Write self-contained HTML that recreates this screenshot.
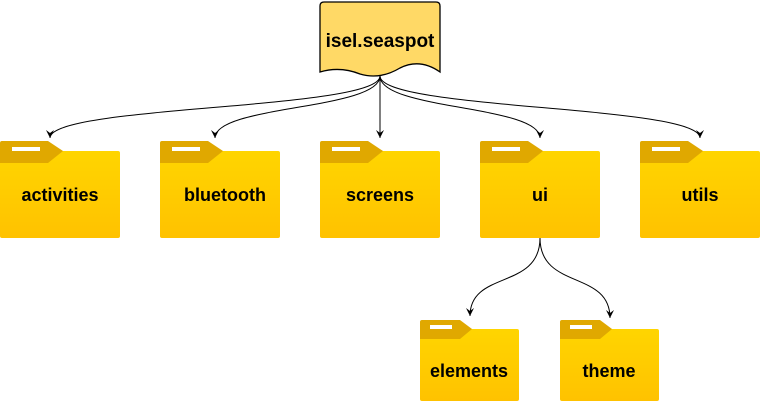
<!DOCTYPE html>
<html><head><style>body{margin:0;background:#fff}svg{display:block}text{font-family:"Liberation Sans",sans-serif;font-weight:bold;font-size:18px;fill:#000;text-anchor:middle}</style></head>
<body>
<svg width="761" height="407" viewBox="0 0 761 407">
<defs>
<linearGradient id="g" x1="0" y1="0" x2="0" y2="1"><stop offset="0" stop-color="#FFD500"/><stop offset="1" stop-color="#FFC200"/></linearGradient>
<marker id="a" markerWidth="10" markerHeight="10" refX="8" refY="5" orient="auto" markerUnits="userSpaceOnUse"><path d="M0,1 L8,5 L0,9 L3,5 Z" fill="#000"/></marker>
<g id="f">
<rect x="0" y="10" width="120" height="87" rx="2" fill="url(#g)"/>
<path d="M2,0 H48 L63,10 L48,22 H0 V2 Q0,0 2,0 Z" fill="#E0A800"/>
<rect x="12" y="6" width="28" height="4" fill="#fff"/>
</g>
<g id="fs">
<rect x="0" y="9" width="99" height="72" rx="2" fill="url(#g)"/>
<path d="M2,0 H40 L52,9 L40,19 H0 V2 Q0,0 2,0 Z" fill="#E0A800"/>
<rect x="10" y="5" width="22" height="4" fill="#fff"/>
</g>
</defs>
<path d="M320,6 Q320,2 324,2 H436 Q440,2 440,6 V72 Q420,58 400,68 Q380,80 360,74 Q340,66 320,72 Z" fill="#FFD966" stroke="#000" stroke-width="1.3"/>
<text x="380" y="47" style="font-size:19px">isel.seaspot</text>
<g fill="none" stroke="#000" stroke-width="1">
<path d="M380,76 C380,110 50,105 50,138" marker-end="url(#a)"/>
<path d="M380,76 C380,110 215,105 215,138" marker-end="url(#a)"/>
<path d="M380,76 V138" marker-end="url(#a)"/>
<path d="M380,76 C380,110 540,105 540,138" marker-end="url(#a)"/>
<path d="M380,76 C380,110 700,105 700,138" marker-end="url(#a)"/>
<path d="M540,238 C540,290 470,270 470,316" marker-end="url(#a)"/>
<path d="M540,238 C540,290 610,270 610,318" marker-end="url(#a)"/>
</g>
<use href="#f" x="0" y="141"/><use href="#f" x="160" y="141"/><use href="#f" x="320" y="141"/><use href="#f" x="480" y="141"/><use href="#f" x="640" y="141"/>
<use href="#fs" x="420" y="320"/><use href="#fs" x="560" y="320"/>
<text x="60" y="201">activities</text>
<text x="225" y="201">bluetooth</text>
<text x="380" y="201">screens</text>
<text x="540" y="201">ui</text>
<text x="700" y="201">utils</text>
<text x="469" y="377">elements</text>
<text x="609" y="377">theme</text>
</svg>
</body></html>
